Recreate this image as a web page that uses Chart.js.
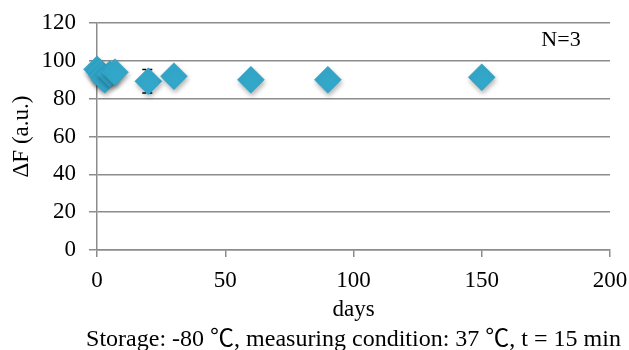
<!DOCTYPE html>
<html>
<head>
<meta charset="utf-8">
<script src="https://cdn.jsdelivr.net/npm/chart.js@4.4.1/dist/chart.umd.min.js"></script>
<style>
  html, body { margin: 0; padding: 0; background: #fff; }
  #wrap { width: 629px; height: 350px; position: relative; }
</style>
</head>
<body>
<div id="wrap"><canvas id="chartCanvas"></canvas></div>
<script>
// Data
const days = [0, 1, 2, 3, 5, 7, 20, 30, 60, 90, 150];
const deltaF = [95.5, 94, 92, 90, 93, 94, 89.2, 91.9, 90, 90, 91.3];
const errors = [1, 1, 1, 1, 1, 1, 6.2, 1, 1, 1, 1]; // only day 20 shows outside the marker
const xTicks = [0, 50, 100, 150, 200];
const yTicks = [0, 20, 40, 60, 80, 100, 120];
const caption = "Storage: -80 ℃, measuring condition: 37 ℃, t = 15 min";

const serif = "'Liberation Serif', 'Times New Roman', 'Noto Sans CJK JP', serif";
const gray = "#8c8c8c";

// Error bars drawn under the markers
const errorBars = {
  id: "errorBars",
  beforeDatasetsDraw(chart) {
    const ctx = chart.ctx;
    const xs = chart.scales.x;
    const ys = chart.scales.y;
    ctx.save();
    ctx.strokeStyle = "#000";
    ctx.lineWidth = 1.5;
    days.forEach((d, i) => {
      const px = xs.getPixelForValue(d);
      const top = ys.getPixelForValue(deltaF[i] + errors[i]);
      const bot = ys.getPixelForValue(deltaF[i] - errors[i]);
      ctx.setLineDash([]);
      ctx.beginPath();
      ctx.moveTo(px, top + 3);
      ctx.lineTo(px, bot - 3);
      ctx.stroke();
      ctx.setLineDash([4, 2]);
      ctx.beginPath();
      ctx.moveTo(px - 6, top);
      ctx.lineTo(px + 6, top);
      ctx.moveTo(px - 6, bot);
      ctx.lineTo(px + 6, bot);
      ctx.stroke();
    });
    ctx.restore();
  },
};

// Soft shadow under the diamonds, the "N=3" note and the caption
const extras = {
  id: "extras",
  beforeDatasetDraw(chart) {
    const ctx = chart.ctx;
    ctx.save();
    ctx.shadowColor = "rgba(0,0,0,0.3)";
    ctx.shadowBlur = 5;
    ctx.shadowOffsetX = 1;
    ctx.shadowOffsetY = 3;
  },
  afterDatasetDraw(chart) {
    chart.ctx.restore();
  },
  afterDraw(chart) {
    const ctx = chart.ctx;
    const a = chart.chartArea;
    ctx.save();
    ctx.fillStyle = "#000";
    ctx.font = "22px " + serif;
    ctx.textAlign = "center";
    ctx.textBaseline = "middle";
    ctx.fillText("N=3", a.right - 49, a.top + 17);
    ctx.font = "24px " + serif;
    ctx.textBaseline = "alphabetic";
    ctx.fillText(caption, (a.left + a.right) / 2, chart.height - 4);
    ctx.restore();
  },
};

const ctx = document.getElementById("chartCanvas").getContext("2d");
const chart = new Chart(ctx, {
  type: "scatter",
  data: {
    datasets: [
      {
        label: "ΔF",
        data: days.map((d, i) => ({ x: d, y: deltaF[i] })),
        pointStyle: "rectRot",
        pointRadius: 13.5,
        pointBackgroundColor: "#33a7ca",
        pointBorderColor: "#2d9dc0",
        pointBorderWidth: 0.5,
        clip: false,
      },
    ],
  },
  options: {
    responsive: true,
    maintainAspectRatio: false,
    animation: false,
    layout: { padding: { left: 8, right: 19, top: 23, bottom: 26 } },
    plugins: {
      legend: { display: false },
      tooltip: { enabled: false },
    },
    scales: {
      x: {
        type: "linear",
        min: 0,
        max: 200,
        afterBuildTicks: (scale) => {
          scale.ticks = xTicks.map((v) => ({ value: v }));
        },
        afterFit: (scale) => {
          scale.height = 74;
          scale.paddingLeft = 0;
          scale.paddingRight = 0;
        },
        grid: { drawOnChartArea: false, color: gray, tickLength: 7, lineWidth: 1.5 },
        border: { color: gray, width: 1.5 },
        ticks: { color: "#000", font: { family: serif, size: 23 }, padding: 10, maxRotation: 0 },
        title: {
          display: true,
          text: "days",
          color: "#000",
          font: { family: serif, size: 23 },
          padding: { top: 0, bottom: 0 },
        },
      },
      y: {
        min: 0,
        max: 120,
        afterBuildTicks: (scale) => {
          scale.ticks = yTicks.map((v) => ({ value: v }));
        },
        afterFit: (scale) => {
          scale.width = 89;
          scale.paddingTop = 0;
          scale.paddingBottom = 0;
        },
        grid: { color: gray, tickLength: 8, lineWidth: 1.5 },
        border: { color: gray, width: 1.5 },
        ticks: { color: "#000", font: { family: serif, size: 23 }, padding: 13 },
        title: {
          display: true,
          text: "ΔF (a.u.)",
          color: "#000",
          font: { family: serif, size: 23 },
          padding: { top: 0, bottom: 5 },
        },
      },
    },
  },
  plugins: [errorBars, extras],
});
</script>
</body>
</html>
